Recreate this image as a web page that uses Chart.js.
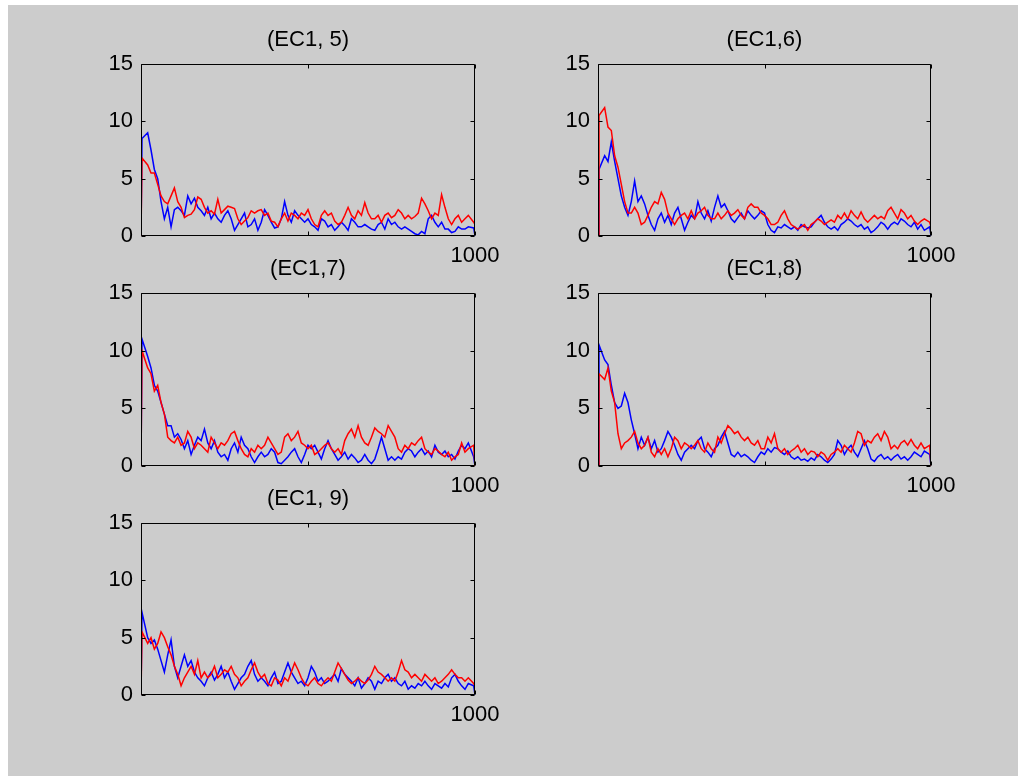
<!DOCTYPE html>
<html><head><meta charset="utf-8">
<script src="https://cdn.jsdelivr.net/npm/chart.js@4.4.1/dist/chart.umd.min.js"></script>
<style>
html,body{margin:0;padding:0;background:#ffffff;}
#fig{position:absolute;left:8px;top:5px;width:1010px;height:771px;background:#cccccc;}
canvas{position:absolute;}
</style></head><body>
<div id="fig"></div>
<script>
// sample positions (x axis); the first rise and last fall are nearly vertical
const xs = [0,3,20,30,40,50,60,70,80,90,
  100,110,120,130,140,150,160,170,180,190,
  200,210,220,230,240,250,260,270,280,290,
  300,310,320,330,340,350,360,370,380,390,
  400,410,420,430,440,450,460,470,480,490,
  500,510,520,530,540,550,560,570,580,590,
  600,610,620,630,640,650,660,670,680,690,
  700,710,720,730,740,750,760,770,780,790,
  800,810,820,830,840,850,860,870,880,890,
  900,910,920,930,940,950,960,970,980,996,
  1000];

const titles = ["(EC1, 5)", "(EC1,6)", "(EC1,7)", "(EC1,8)", "(EC1, 9)"];
const yTickValues = [0, 5, 10, 15];
const xTickValues = [0, 500, 1000];
const xTickLabels = ["", "", "1000"];

const ec5Red = [0,6.8,6.2,5.5,5.5,4.5,3.5,3.0,2.8,3.5,
  4.2,3.0,2.5,1.6,1.8,1.9,2.3,3.4,3.2,2.5,
  2.0,2.2,1.9,3.2,2.0,2.3,2.6,2.5,2.4,1.5,
  1.0,1.3,1.6,2.2,2.0,2.2,2.3,1.8,2.0,1.3,
  1.2,0.8,1.5,2.0,1.3,2.0,1.8,1.5,2.0,1.8,
  2.3,1.5,1.0,0.8,1.8,2.2,1.8,2.0,1.3,1.0,
  1.2,1.8,2.5,1.8,1.5,2.2,1.8,2.9,2.0,1.5,
  1.5,1.8,1.2,1.8,2.0,1.6,1.8,2.3,2.0,1.5,
  1.8,1.5,1.7,2.0,3.3,2.8,2.2,1.5,2.0,1.8,
  3.6,2.5,1.5,1.0,1.5,1.8,1.2,1.5,1.8,1.2,
  1.0];
const ec5Blue = [0,8.5,9.0,7.5,5.8,5.0,3.0,1.5,2.5,0.8,
  2.3,2.5,2.2,1.8,3.5,2.8,3.3,2.5,2.2,1.8,
  2.5,1.5,2.0,1.5,1.2,1.8,2.2,1.5,0.5,1.0,
  1.5,2.0,0.8,1.0,1.5,0.5,1.2,2.3,1.8,1.2,
  0.7,0.8,1.5,3.0,1.8,1.2,2.2,1.8,1.5,1.2,
  1.5,1.0,0.8,0.5,1.5,1.3,0.8,1.0,0.5,0.8,
  1.2,0.9,0.5,1.5,1.2,0.8,0.8,1.0,0.8,0.6,
  0.5,1.0,1.2,0.6,1.5,1.0,1.2,0.8,0.6,0.8,
  0.6,0.4,0.2,0.1,0.4,0.2,1.5,1.8,1.2,0.8,
  1.2,0.6,0.6,0.3,0.4,0.8,0.6,0.6,0.8,0.7,
  0];

const ec6Red = [0,10.5,11.2,9.5,9.2,7.0,6.0,4.5,3.0,2.0,
  2.0,2.5,2.0,1.0,1.2,1.8,2.5,3.0,2.8,3.8,
  3.2,2.0,1.5,1.0,1.5,1.8,2.0,1.5,2.2,1.5,
  2.0,2.2,2.5,1.8,1.5,1.5,2.0,1.5,1.8,2.2,
  1.8,2.0,2.3,1.8,1.5,2.5,2.8,2.5,2.5,2.0,
  1.8,1.5,1.0,1.0,1.2,1.8,2.2,1.5,1.0,0.8,
  0.6,0.8,1.0,0.5,1.0,1.2,1.5,1.3,1.0,1.2,
  1.4,1.2,1.8,1.5,2.0,1.5,2.2,1.8,1.5,2.1,
  1.5,1.2,1.5,1.8,1.5,1.7,1.5,2.2,2.5,2.0,
  1.5,2.3,2.0,1.5,1.8,1.3,1.0,1.3,1.5,1.2,
  0.8];
const ec6Blue = [0,5.8,7.0,6.5,8.2,6.5,5.0,3.5,2.5,1.8,
  3.0,4.8,3.0,3.5,2.8,1.8,1.0,0.5,1.5,2.0,
  1.2,1.8,1.0,2.0,2.5,1.5,0.5,1.2,1.8,1.5,
  3.0,2.0,1.5,2.2,1.3,2.5,3.5,2.5,2.8,2.2,
  1.5,1.2,1.6,2.0,1.5,2.2,1.8,1.5,1.8,2.2,
  2.0,1.0,0.5,0.3,0.8,0.7,1.0,0.8,0.6,0.8,
  0.5,1.0,0.8,0.7,0.8,1.2,1.5,1.8,1.2,0.8,
  0.6,0.8,0.5,1.0,1.2,1.5,1.3,1.0,0.8,1.0,
  0.6,0.8,0.3,0.5,0.8,1.2,1.0,0.6,1.0,1.2,
  1.0,1.5,1.3,1.0,0.8,1.2,0.6,1.0,0.5,0.8,
  0];

const ec7Red = [0,10.0,8.5,8.0,6.5,7.0,5.5,4.5,2.5,2.2,
  2.0,2.5,1.8,2.0,3.0,2.5,1.5,2.0,1.8,1.5,
  1.2,2.5,2.0,1.5,2.0,1.8,2.2,2.8,3.0,2.2,
  1.5,1.0,0.8,1.5,1.2,1.8,1.5,1.8,2.5,2.0,
  1.5,1.0,1.2,2.5,2.8,2.2,2.5,3.0,2.0,1.8,
  1.5,1.8,1.0,1.2,1.5,1.8,2.0,1.5,1.2,1.5,
  1.0,2.2,2.8,3.2,2.5,3.5,2.5,2.0,1.8,2.5,
  3.3,3.0,2.8,2.5,3.5,3.0,2.5,1.5,1.2,1.8,
  1.5,2.0,1.8,2.2,2.5,1.5,1.2,1.0,1.5,1.3,
  1.0,0.8,1.2,0.5,0.8,1.0,2.0,1.2,1.5,1.8,
  0];
const ec7Blue = [0,11.0,9.5,8.5,7.0,6.5,5.5,4.5,3.5,3.5,
  2.5,2.8,2.3,1.5,2.2,1.0,1.8,2.5,2.2,3.2,
  2.0,1.5,2.2,1.2,0.8,1.0,0.5,1.5,2.0,1.2,
  2.5,1.8,1.5,0.8,0.3,0.8,1.2,0.8,1.0,1.5,
  1.2,0.3,0.2,0.5,0.8,1.2,1.5,0.8,0.3,1.0,
  1.8,1.5,1.8,1.2,0.6,1.5,2.2,1.5,1.0,0.5,
  0.8,1.2,0.6,1.0,0.7,0.3,0.5,1.0,0.5,0.2,
  0.6,1.5,2.5,1.5,0.5,0.8,0.5,0.8,0.6,1.2,
  1.5,1.3,0.8,1.2,1.5,1.0,1.3,0.8,1.8,1.2,
  1.0,1.3,0.8,1.0,0.6,1.3,1.8,1.5,2.0,0.8,
  0];

const ec8Red = [0,8.0,7.5,8.5,6.5,5.5,2.8,1.5,2.0,2.2,
  2.5,3.0,2.0,1.5,1.8,2.5,1.2,0.8,1.5,1.0,
  1.5,0.8,1.5,2.5,2.2,1.5,2.0,1.8,1.5,1.8,
  2.2,1.5,1.2,2.0,1.5,1.2,2.5,2.0,2.8,3.5,
  3.2,2.8,3.0,2.5,2.2,2.5,2.0,1.8,2.2,1.5,
  1.5,2.5,2.0,2.8,1.5,1.2,1.5,1.0,1.3,1.5,
  1.8,1.2,1.5,1.0,1.3,1.2,0.8,1.2,1.0,0.5,
  1.0,1.2,1.5,1.2,1.8,1.5,1.2,2.0,3.0,2.8,
  1.8,2.2,2.0,2.5,2.8,2.2,3.0,2.5,1.5,1.8,
  1.5,2.0,2.2,1.8,2.3,1.8,1.5,2.0,1.5,1.8,
  0];
const ec8Blue = [0,10.5,9.2,8.8,7.0,5.5,5.0,5.2,6.3,5.5,
  4.0,2.8,1.5,2.5,1.8,2.5,1.5,2.2,1.2,1.5,
  2.2,3.0,2.5,1.8,1.0,0.5,1.2,1.5,1.8,1.5,
  2.2,2.5,1.5,1.2,0.8,1.5,1.8,2.5,3.0,2.0,
  1.0,0.8,1.2,0.8,1.0,0.8,0.5,0.3,0.8,1.2,
  1.0,1.5,1.2,1.6,1.5,1.2,1.0,1.3,0.8,0.6,
  0.8,0.5,0.6,0.4,0.7,0.5,1.0,0.8,0.5,0.3,
  0.6,1.0,2.2,1.8,1.0,1.5,1.8,1.2,0.8,1.5,
  2.2,1.5,0.6,0.4,0.8,1.0,0.6,0.8,0.5,0.8,
  1.0,0.6,0.8,0.5,0.8,1.2,1.0,0.8,1.3,1.0,
  0];

const ec9Red = [0,5.5,4.5,5.0,4.0,4.5,5.5,5.0,4.2,3.5,
  2.5,1.8,0.8,1.5,2.0,2.5,1.8,3.0,1.5,2.0,
  1.5,1.8,2.5,1.5,1.8,2.2,2.0,2.5,1.8,1.5,
  0.8,1.2,1.5,2.2,2.8,2.0,1.5,1.8,1.0,0.8,
  1.5,1.3,0.8,1.5,1.2,2.0,2.8,2.2,1.5,1.0,
  0.8,1.2,1.5,1.0,0.8,1.2,1.5,1.2,2.0,2.8,
  2.3,1.8,1.3,1.0,1.2,1.5,1.2,1.0,1.3,1.8,
  2.5,2.0,1.8,1.5,1.2,1.5,1.2,2.0,3.0,2.2,
  2.0,1.5,1.8,1.5,1.2,1.8,1.5,1.2,1.5,1.0,
  1.2,1.5,1.8,2.2,1.8,1.5,1.5,1.2,1.5,1.0,
  0.8];
const ec9Blue = [0,7.2,5.0,4.5,4.8,4.0,3.0,2.0,3.5,4.8,
  2.5,1.5,2.5,3.5,2.5,3.0,2.0,1.5,1.2,0.8,
  1.5,2.0,1.3,1.8,2.5,1.5,2.0,1.2,0.5,1.0,
  1.5,1.8,2.5,3.0,1.8,1.2,1.5,1.2,0.8,1.5,
  2.0,1.0,1.2,2.0,2.8,2.0,1.5,1.0,1.2,0.8,
  1.5,2.5,2.0,1.2,1.5,1.0,1.2,1.5,1.8,1.2,
  2.3,1.8,1.5,1.2,0.8,1.5,0.6,1.0,1.5,1.2,
  0.5,1.2,1.0,1.5,1.8,1.2,1.5,1.0,0.8,1.2,
  0.5,0.8,0.6,1.0,0.8,1.2,0.8,0.5,1.0,0.8,
  0.6,1.0,0.7,1.5,1.8,1.2,0.8,0.5,1.0,0.8,
  0];

const redSeries = [ec5Red, ec6Red, ec7Red, ec8Red, ec9Red];
const blueSeries = [ec5Blue, ec6Blue, ec7Blue, ec8Blue, ec9Blue];

// axes boxes (page pixels): left, top, width, height
const boxes = [
  [141, 64, 334, 172],
  [598, 64, 333, 172],
  [141, 293, 334, 173],
  [598, 293, 333, 173],
  [141, 523, 334, 172]
];

const FONT = '"Liberation Sans", Arial, Helvetica, sans-serif';
const FSIZE = 22;
const ML = 70, MT = 50, MR = 50, MB = 40;

const matlabAxes = {
  id: 'matlabAxes',
  afterDatasetsDraw(chart, args, opts) {
    const {ctx, chartArea: a} = chart;
    const xs_ = chart.scales.x, ys_ = chart.scales.y;
    ctx.save();
    ctx.strokeStyle = '#000';
    ctx.lineWidth = 1;
    const l = Math.round(a.left) + 0.5, r = Math.round(a.right) - 0.5;
    const t = Math.round(a.top) + 0.5, b = Math.round(a.bottom) - 0.5;
    ctx.beginPath();
    ctx.rect(l, t, r - l, b - t);
    ctx.stroke();
    const tl = 4;
    ctx.beginPath();
    ys_.ticks.forEach(tk => {
      const py = Math.round(ys_.getPixelForValue(tk.value)) + 0.5;
      ctx.moveTo(l, py); ctx.lineTo(l + tl, py);
      ctx.moveTo(r, py); ctx.lineTo(r - tl, py);
    });
    xs_.ticks.forEach(tk => {
      const px = Math.round(xs_.getPixelForValue(tk.value)) + 0.5;
      ctx.moveTo(px, b); ctx.lineTo(px, b - tl);
      ctx.moveTo(px, t); ctx.lineTo(px, t + tl);
    });
    ctx.stroke();
    ctx.fillStyle = '#000';
    ctx.font = FSIZE + 'px ' + FONT;
    ctx.textAlign = 'center';
    ctx.textBaseline = 'alphabetic';
    ctx.fillText(opts.title, (a.left + a.right) / 2, a.top - 18);
    ctx.restore();
  }
};

boxes.forEach((bx, i) => {
  const [L, T, W, H] = bx;
  const cv = document.createElement('canvas');
  cv.width = W + ML + MR; cv.height = H + MT + MB;
  cv.style.left = (L - ML) + 'px';
  cv.style.top = (T - MT) + 'px';
  cv.style.width = cv.width + 'px';
  cv.style.height = cv.height + 'px';
  document.body.appendChild(cv);
  new Chart(cv.getContext('2d'), {
    type: 'line',
    data: {
      datasets: [
        { data: xs.map((x, k) => ({x: x, y: redSeries[i][k]})), borderColor: '#ff0000', borderWidth: 1.5 },
        { data: xs.map((x, k) => ({x: x, y: blueSeries[i][k]})), borderColor: '#0000ff', borderWidth: 1.5 }
      ]
    },
    options: {
      responsive: false,
      animation: false,
      devicePixelRatio: 1,
      layout: { padding: { left: 0, right: MR, top: MT, bottom: 0 } },
      elements: { point: { radius: 0 }, line: { tension: 0, fill: false } },
      plugins: {
        legend: { display: false },
        tooltip: { enabled: false },
        matlabAxes: { title: titles[i] }
      },
      scales: {
        x: {
          type: 'linear', min: 0, max: 1000,
          afterBuildTicks: s => { s.ticks = xTickValues.map(v => ({value: v})); },
          ticks: {
            autoSkip: false, maxRotation: 0, padding: 7, color: '#000',
            font: { family: FONT, size: FSIZE },
            callback: (v) => xTickLabels[xTickValues.indexOf(v)]
          },
          grid: { display: false, drawTicks: false },
          border: { display: false },
          afterFit: s => { s.height = MB; }
        },
        y: {
          type: 'linear', min: 0, max: 15,
          afterBuildTicks: s => { s.ticks = yTickValues.map(v => ({value: v})); },
          ticks: {
            padding: 8, color: '#000',
            font: { family: FONT, size: FSIZE }
          },
          grid: { display: false, drawTicks: false },
          border: { display: false },
          afterFit: s => { s.width = ML; }
        }
      }
    },
    plugins: [matlabAxes]
  });
});
</script>
</body></html>
